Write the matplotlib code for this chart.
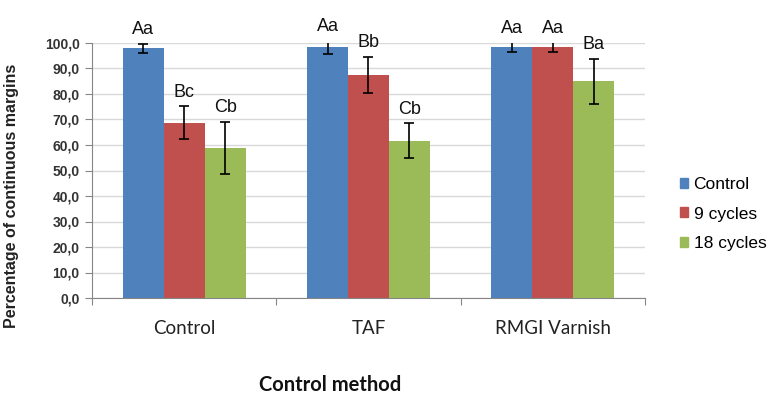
import numpy as np
import matplotlib
matplotlib.use("Agg")
import matplotlib.pyplot as plt
from matplotlib.patches import Patch

# data
methods = ["Control", "TAF", "RMGI Varnish"]
series = ["Control", "9 cycles", "18 cycles"]
means = [
    [98.0, 98.3, 98.3],   # Control
    [68.8, 87.5, 98.3],   # 9 cycles
    [59.0, 61.7, 85.0],   # 18 cycles
]
errs = [
    [1.8, 2.5, 2.0],
    [6.3, 7.0, 2.0],
    [10.2, 6.8, 8.8],
]
letters = [
    ["Aa", "Aa", "Aa"],
    ["Bc", "Bb", "Aa"],
    ["Cb", "Cb", "Ba"],
]
yticks = np.arange(0, 101, 10)

colors = ["#4F81BD", "#C0504D", "#9BBB59"]
W, H = 777, 399

fig = plt.figure(figsize=(W / 100, H / 100), dpi=100)
ax = fig.add_axes([92 / W, 1 - 298 / H, (645 - 92) / W, (298 - 43) / H])

x = np.arange(len(methods))
bw = 1 / 4.5
for i, name in enumerate(series):
    pos = x + (i - 1) * bw
    ax.bar(pos, means[i], width=bw, color=colors[i], zorder=2)
    ax.errorbar(pos, means[i], yerr=errs[i], fmt="none", ecolor="black",
                elinewidth=1.2, capsize=3.5, capthick=1.2, zorder=3)
    for p, m, e, t in zip(pos, means[i], errs[i], letters[i]):
        ax.annotate(t, (p, m + e), xytext=(0, 4), textcoords="offset points",
                    ha="center", va="bottom", fontsize=13,
                    family="Liberation Sans", color="#111111",
                    annotation_clip=False)

ax.set_ylim(0, 100)
ax.set_xlim(-0.5, len(methods) - 0.5)
ax.set_yticks(yticks)
ax.set_yticklabels([f"{v:.1f}".replace(".", ",") for v in yticks],
                   family="Liberation Sans", fontsize=10, fontweight="bold",
                   color="#333333")
ax.yaxis.grid(True, color="#D9D9D9", lw=1, zorder=0)
ax.set_axisbelow(True)

# category boundaries as tick marks, labels centred on minor ticks
ax.set_xticks(np.arange(-0.5, len(methods), 1.0))
ax.set_xticklabels([])
ax.set_xticks(x, minor=True)
ax.set_xticklabels(methods, minor=True, family="Lato", fontsize=13.5,
                   color="#222222")
ax.tick_params(axis="x", which="major", length=5, color="#868686")
ax.tick_params(axis="x", which="minor", length=0, pad=16)
ax.tick_params(axis="y", length=5, color="#868686", pad=4)

for s in ["top", "right"]:
    ax.spines[s].set_visible(False)
for s in ["left", "bottom"]:
    ax.spines[s].set_color("#868686")

fig.text(12 / W, 1 - 196 / H, "Percentage of continuous margins",
         rotation=90, ha="center", va="center", fontsize=11.5,
         fontweight="bold", family="Liberation Sans", color="#222222")
fig.text(330 / W, 1 - 385 / H, "Control method", ha="center", va="center",
         fontsize=14.5, fontweight="bold", family="Lato", color="#111111")

handles = [Patch(color=c) for c in colors]
fig.legend(handles, series, loc="center left",
           bbox_to_anchor=(664 / W, 1 - 214 / H), frameon=False,
           handlelength=0.5, handleheight=0.5, handletextpad=0.3,
           labelspacing=0.85, prop={"family": "Liberation Sans", "size": 12.5})

fig.savefig("out.png", dpi=100)
